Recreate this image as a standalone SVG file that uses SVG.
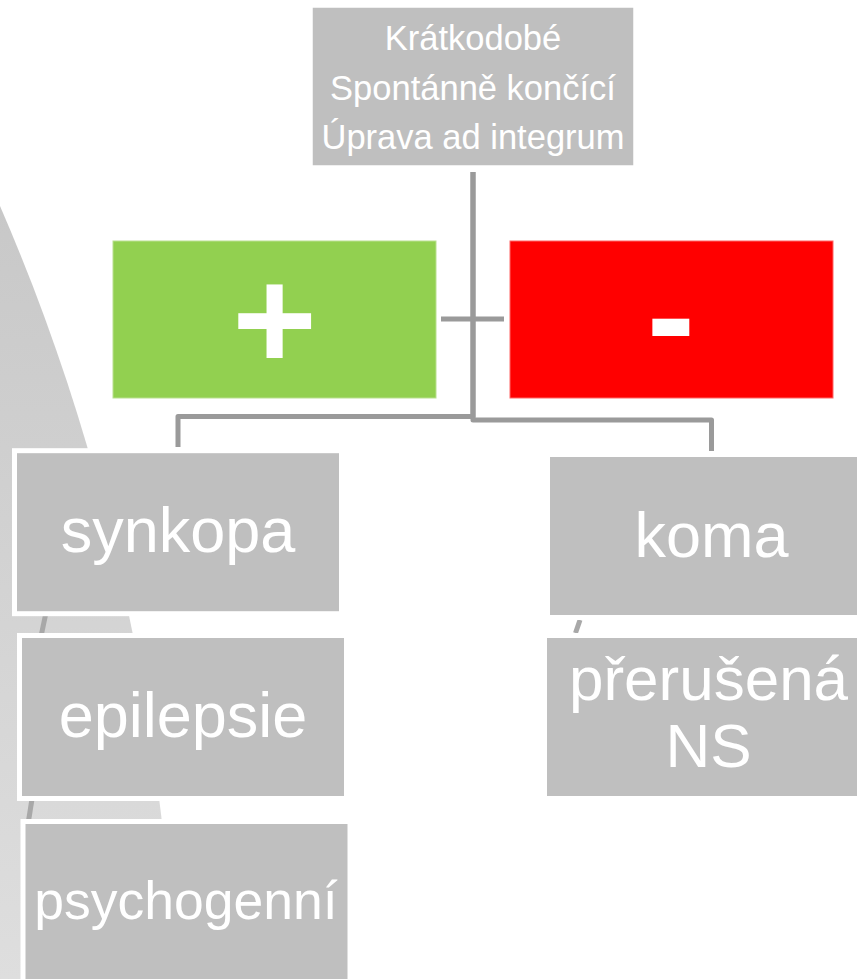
<svg xmlns="http://www.w3.org/2000/svg" width="857" height="979" viewBox="0 0 857 979">
<defs>
<linearGradient id="bg" x1="0" y1="200" x2="0" y2="979" gradientUnits="userSpaceOnUse">
<stop offset="0" stop-color="#c8c8c8"/>
<stop offset="1" stop-color="#dedede"/>
</linearGradient>
<style>
.box{fill:#bfbfbf;stroke:#ffffff;stroke-width:5}
.thin{stroke-width:1.5}
.t{font-family:"Liberation Sans",Arial,sans-serif;fill:#ffffff;text-anchor:middle}
.conn{fill:none;stroke:#9a9a9a;stroke-width:5;stroke-linejoin:round}
.tick{stroke:#a8a8a8;stroke-width:5}
</style>
</defs>
<rect width="857" height="979" fill="#ffffff"/>
<path id="background" d="M0,206 C108,455 158,700 176,979 L0,979 Z" fill="url(#bg)"/>
<g id="ticks">
<line class="tick" x1="45.5" y1="615" x2="41.5" y2="634"/>
<line class="tick" x1="32" y1="799" x2="28.5" y2="821"/>
<line class="tick" x1="580" y1="620" x2="575.5" y2="633"/>
</g>
<g id="connectors">
<path class="conn" d="M473,172 V416.5 H178 V447"/>
<path class="conn" d="M473,172 V420 H711.5 V451"/>
<path class="conn" d="M441,319 H504"/>
</g>
<g id="top">
<rect class="box thin" x="312" y="7" width="322" height="159"/>
<text class="t" font-size="34.5" x="473" y="50">Krátkodobé</text>
<text class="t" font-size="34.5" x="473" y="99.5">Spontánně končící</text>
<text class="t" font-size="34.5" x="473" y="149">Úprava ad integrum</text>
</g>
<g id="plus">
<rect x="113" y="241" width="323" height="157" fill="#92d050" stroke="#b9e08f" stroke-width="1"/>
<text class="t" font-size="145" font-weight="bold" x="274.5" y="369">+</text>
</g>
<g id="minus">
<rect x="510" y="241" width="323" height="157" fill="#ff0000" stroke="#ff6666" stroke-width="1"/>
<text class="t" font-size="145" font-weight="bold" x="671" y="365">-</text>
</g>
<g id="synkopa">
<rect class="box" x="14.5" y="450.7" width="327" height="163"/>
<text class="t" font-size="63" x="178" y="552">synkopa</text>
</g>
<g id="epilepsie">
<rect class="box" x="19.5" y="635.5" width="327" height="163"/>
<text class="t" font-size="63" x="183" y="737">epilepsie</text>
</g>
<g id="psychogenni">
<rect class="box" x="23" y="821.5" width="327" height="163"/>
<text class="t" font-size="53.5" x="186" y="919">psychogenní</text>
</g>
<g id="koma">
<rect class="box" x="547.5" y="454.5" width="327" height="163"/>
<text class="t" font-size="63" x="711.5" y="557">koma</text>
</g>
<g id="prerusena">
<rect class="box" x="544.5" y="635.5" width="327" height="163"/>
<text class="t" font-size="62" x="708.5" y="700">přerušená</text>
<text class="t" font-size="62" x="708.5" y="767">NS</text>
</g>
</svg>
